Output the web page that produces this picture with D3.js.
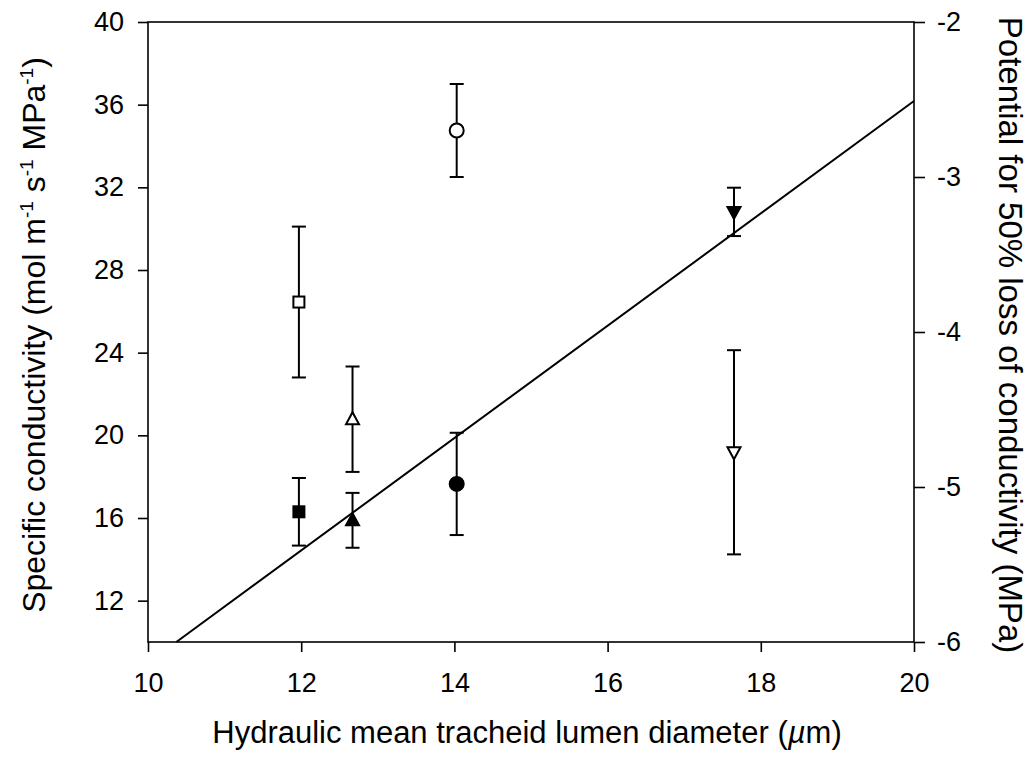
<!DOCTYPE html>
<html>
<head>
<meta charset="utf-8">
<script src="https://cdn.jsdelivr.net/npm/d3@7"></script>
<style>
  html, body { margin: 0; padding: 0; background: #fff; }
  svg { display: block; }
  text { font-family: "Liberation Sans", Arial, sans-serif; fill: #000; }
</style>
</head>
<body>
<svg id="chart" width="1034" height="762"></svg>
<script>
// ---- data ----
const symbols = ["square", "triangle", "circle", "triangleDown"];
const diameter = [11.97, 12.67, 14.03, 17.65];          // µm
const conductivity = [26.45, 20.78, 34.75, 19.18];     // open symbols, left axis
const conductivityErr = [3.65, 2.55, 2.25, 4.94];
const p50 = [-5.16, -5.215, -4.98, -3.225];            // filled symbols, right axis
const p50Err = [0.218, 0.177, 0.33, 0.156];
const fitX = [10.37, 20];
const fitP50 = [-6, -2.51];
const xTicks = [10, 12, 14, 16, 18, 20];
const leftTicks = [12, 16, 20, 24, 28, 32, 36, 40];
const rightTicks = [-6, -5, -4, -3, -2];

// ---- layout ----
const L = 148, R = 914, T = 22, B = 642;
const svg = d3.select("#chart");
const x = d3.scaleLinear().domain([10, 20]).range([L, R]);
const yL = d3.scaleLinear().domain([10, 40]).range([B, T]);
const yR = d3.scaleLinear().domain([-6, -2]).range([B, T]);

const fs = 27;
// frame
svg.append("rect").attr("x", L).attr("y", T).attr("width", R - L).attr("height", B - T)
  .attr("fill", "none").attr("stroke", "#000").attr("stroke-width", 1.6);

// axes
function styleAxis(g) {
  g.select(".domain").remove();
  g.selectAll(".tick line").attr("stroke", "#000").attr("stroke-width", 1.6);
  g.selectAll(".tick text").attr("font-size", fs).attr("font-family", "Liberation Sans, Arial, sans-serif").attr("fill", "#000");
}
const fmt = d => String(d);
svg.append("g").attr("transform", `translate(0,${B})`)
  .call(d3.axisBottom(x).tickValues(xTicks).tickFormat(fmt).tickSize(10).tickPadding(21))
  .call(styleAxis);
svg.append("g").attr("transform", `translate(${L},0)`)
  .call(d3.axisLeft(yL).tickValues(leftTicks).tickFormat(fmt).tickSize(10).tickPadding(14))
  .call(styleAxis);
svg.append("g").attr("transform", `translate(${R},0)`)
  .call(d3.axisRight(yR).tickValues(rightTicks).tickFormat(fmt).tickSize(11).tickPadding(12))
  .call(styleAxis);

// regression line
svg.append("path")
  .datum(fitX.map((d, i) => [d, fitP50[i]]))
  .attr("d", d3.line().x(d => x(d[0])).y(d => yR(d[1])))
  .attr("fill", "none").attr("stroke", "#000").attr("stroke-width", 2);

// error bars
function errorBars(vals, errs, scale) {
  const cap = 7;
  const g = svg.append("g").attr("stroke", "#000").attr("stroke-width", 2);
  vals.forEach((v, i) => {
    const cx = x(diameter[i]);
    const y1 = scale(v + errs[i]), y2 = scale(v - errs[i]);
    g.append("line").attr("x1", cx).attr("x2", cx).attr("y1", y1).attr("y2", y2);
    g.append("line").attr("x1", cx - cap).attr("x2", cx + cap).attr("y1", y1).attr("y2", y1);
    g.append("line").attr("x1", cx - cap).attr("x2", cx + cap).attr("y1", y2).attr("y2", y2);
  });
}
errorBars(conductivity, conductivityErr, yL);
errorBars(p50, p50Err, yR);

// markers
function marker(type, cx, cy, filled) {
  const fill = filled ? "#000" : "#fff";
  const sw = 2;
  if (type === "square") {
    svg.append("rect").attr("x", cx - 5.5).attr("y", cy - 5.5).attr("width", 11).attr("height", 11)
      .attr("fill", fill).attr("stroke", "#000").attr("stroke-width", sw);
  } else if (type === "circle") {
    svg.append("circle").attr("cx", cx).attr("cy", cy).attr("r", 7)
      .attr("fill", fill).attr("stroke", "#000").attr("stroke-width", sw);
  } else if (type === "triangle") {
    svg.append("path").attr("d", `M${cx},${cy - 7} L${cx + 6.5},${cy + 5} L${cx - 6.5},${cy + 5} Z`)
      .attr("fill", fill).attr("stroke", "#000").attr("stroke-width", sw).attr("stroke-linejoin", "miter");
  } else {
    svg.append("path").attr("d", `M${cx},${cy + 7} L${cx + 6.5},${cy - 5} L${cx - 6.5},${cy - 5} Z`)
      .attr("fill", fill).attr("stroke", "#000").attr("stroke-width", sw).attr("stroke-linejoin", "miter");
  }
}
symbols.forEach((s, i) => {
  marker(s, x(diameter[i]), yL(conductivity[i]), false);
  marker(s, x(diameter[i]), yR(p50[i]), true);
});

// axis titles
const xt = svg.append("text").attr("x", 527).attr("y", 743)
  .attr("text-anchor", "middle").attr("font-size", 31);
xt.append("tspan").text("Hydraulic mean tracheid lumen diameter (");
xt.append("tspan").attr("font-style", "italic").text("\u00B5");
xt.append("tspan").text("m)");

const ytL = svg.append("text").attr("transform", `translate(45,${335}) rotate(-90)`)
  .attr("text-anchor", "middle").attr("font-size", 32);
ytL.append("tspan").text("Specific conductivity (mol m");
ytL.append("tspan").attr("font-size", 19).attr("dy", -12).text("-1");
ytL.append("tspan").attr("dy", 12).text(" s");
ytL.append("tspan").attr("font-size", 19).attr("dy", -12).text("-1");
ytL.append("tspan").attr("dy", 12).text(" MPa");
ytL.append("tspan").attr("font-size", 19).attr("dy", -12).text("-1");
ytL.append("tspan").attr("dy", 12).text(")");

svg.append("text").attr("transform", `translate(999,${335}) rotate(90)`)
  .attr("text-anchor", "middle").attr("font-size", 33)
  .text("Potential for 50% loss of conductivity (MPa)");
</script>
</body>
</html>
